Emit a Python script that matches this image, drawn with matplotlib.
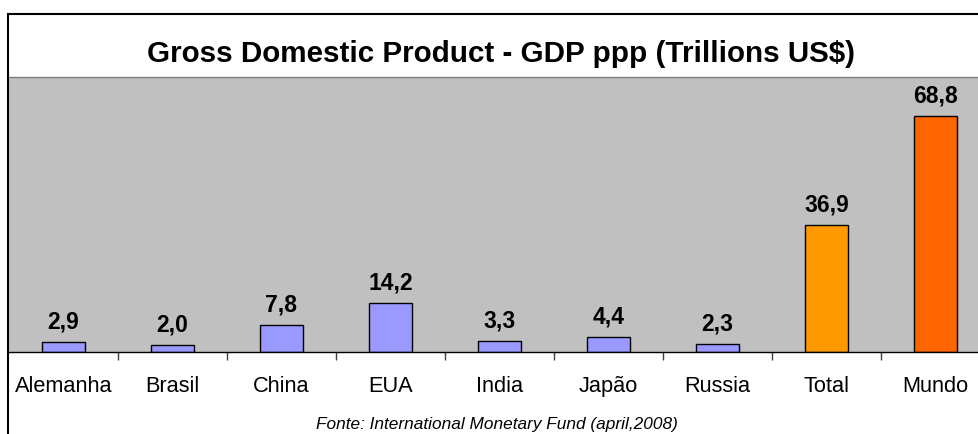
import matplotlib
matplotlib.use("Agg")
from matplotlib import pyplot as plt
from matplotlib.patches import Rectangle

countries = ["Alemanha", "Brasil", "China", "EUA", "India", "Japão", "Russia", "Total", "Mundo"]
gdp = [2.9, 2.0, 7.8, 14.2, 3.3, 4.4, 2.3, 36.9, 68.8]
bar_colors = ["#9999FF"] * 7 + ["#FF9900", "#FF6600"]

W, H = 979, 434
plt.rcParams['font.family'] = ['Liberation Sans', 'DejaVu Sans']

fig = plt.figure(figsize=(W / 100, H / 100), dpi=100)

# outer frame of the chart (cropped on the right and bottom)
fig.patches.append(Rectangle((8 / W, -0.1), 1.2, (H - 14) / H + 0.1,
                             transform=fig.transFigure, fill=False,
                             edgecolor="black", linewidth=1.5))

# plot area in pixels: x 9..990, y 77..352
ax = fig.add_axes([9 / W, (H - 352) / H, 981 / W, 275 / H])
ax.set_facecolor("#C0C0C0")

x = list(range(len(countries)))
ax.bar(x, gdp, width=0.4, color=bar_colors, edgecolor="black", linewidth=1)

for xi, v in zip(x, gdp):
    ax.annotate(f"{v:.1f}".replace(".", ","), (xi, v), xytext=(0, 6),
                textcoords="offset points", ha="center", va="bottom",
                fontsize=16.5, fontweight="bold")

ax.set_xlim(-0.5, len(countries) - 0.5)
ax.set_ylim(0, 80)
ax.set_yticks([])

ax.set_xticks(x)
ax.set_xticklabels(countries, fontsize=15.7)
ax.tick_params(axis="x", which="major", length=0, pad=17.5)
ax.set_xticks([i + 0.5 for i in x[:-1]], minor=True)
ax.tick_params(axis="x", which="minor", length=5.5, width=1, color="#404040")

for s in ["left", "right"]:
    ax.spines[s].set_visible(False)
ax.spines["top"].set_color("#808080")
ax.spines["top"].set_linewidth(1)
ax.spines["bottom"].set_color("black")
ax.spines["bottom"].set_linewidth(1)

fig.text(501 / W, 1 - 54 / H, "Gross Domestic Product - GDP ppp (Trillions US$)",
         ha="center", va="center", fontsize=21.3, fontweight="bold")
fig.text(497 / W, 1 - 424 / H, "Fonte: International Monetary Fund (april,2008)",
         ha="center", va="center", fontsize=12.4, fontstyle="italic")

fig.savefig("out.png", dpi=100)
